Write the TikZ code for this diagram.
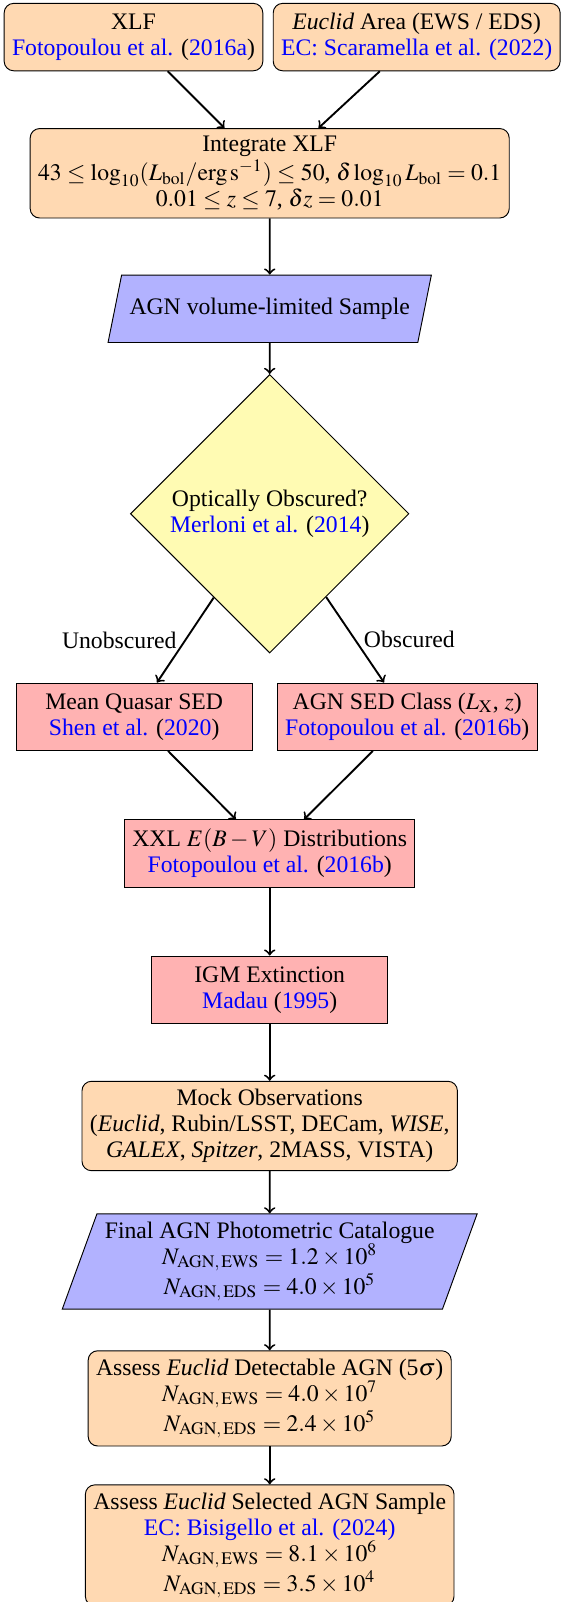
\documentclass[tikz,border=0pt]{standalone}
\usepackage{mathptmx}
\usepackage[no-math]{fontspec}
\setmainfont{Liberation Serif}
\usetikzlibrary{shapes.geometric}

\newcommand{\citeref}[2]{\textcolor{blue}{#1} (\textcolor{blue}{#2})}
\newcommand{\ecref}[1]{\textcolor{blue}{EC: #1}}

\tikzset{
	orangebox/.style={rectangle, rounded corners, draw=black, fill=orange!30, minimum width=3.5cm, minimum height=1cm, align=center},
	redbox/.style={rectangle, draw=black, fill=red!30, minimum width=3.5cm, minimum height=1cm, align=center},
	bluebox/.style={trapezium, trapezium left angle=70, trapezium right angle=110, trapezium stretches=true, draw=black, fill=blue!30, minimum width=3.5cm, minimum height=1cm, align=center},
	decision/.style={diamond, aspect=1, draw=black, fill=yellow!30, align=center},
	flow/.style={draw=black, thick, ->},
}

\begin{document}
\begin{tikzpicture}[every node/.style={font=\fontsize{10}{11}\selectfont}]
	\useasboundingbox (0,0) rectangle (8.31,-23.76);
	% inputs
	\node[orangebox] (xlf) at (1.98,-0.55) {XLF\\\citeref{Fotopoulou et al.}{2016a}};
	\node[orangebox] (area) at (6.18,-0.55) {\textit{Euclid} Area (EWS / EDS)\\\ecref{Scaramella et al. (2022)}};
	\node[orangebox] (integ) at (4.00,-2.57) {Integrate XLF\\[1pt]$43 \le \log_{10}(L_\mathrm{bol}/\mathrm{erg\,s^{-1}}) \le 50$, $\delta\log_{10}L_\mathrm{bol} = 0.1$\\$0.01 \le z \le 7$, $\delta z = 0.01$};
	\node[bluebox] (vol) at (4.00,-4.58) {AGN volume-limited Sample};
	\node[decision] (obsc) at (4.00,-7.62) {Optically Obscured?\\\citeref{Merloni et al.}{2014}};
	% SEDs
	\node[redbox] (qso) at (1.99,-10.63) {Mean Quasar SED\\\citeref{Shen et al.}{2020}};
	\node[redbox] (sedclass) at (6.04,-10.63) {AGN SED Class ($L_\mathrm{X}$, $z$)\\\citeref{Fotopoulou et al.}{2016b}};
	\node[redbox] (ebv) at (4.00,-12.66) {XXL $E(B-V)$ Distributions\\\citeref{Fotopoulou et al.}{2016b}};
	\node[redbox] (igm) at (4.00,-14.68) {IGM Extinction\\\citeref{Madau}{1995}};
	% mock catalogue
	\node[orangebox] (mock) at (4.00,-16.70) {Mock Observations\\(\textit{Euclid}, Rubin/LSST, DECam, \textit{WISE},\\\textit{GALEX}, \textit{Spitzer}, 2MASS, VISTA)};
	\node[bluebox] (final) at (4.00,-18.71) {Final AGN Photometric Catalogue\\$N_\mathrm{AGN,\,EWS} = 1.2\times10^{8}$\\$N_\mathrm{AGN,\,EDS} = 4.0\times10^{5}$};
	\node[orangebox] (detect) at (4.00,-20.74) {Assess \textit{Euclid} Detectable AGN (5$\sigma$)\\$N_\mathrm{AGN,\,EWS} = 4.0\times10^{7}$\\$N_\mathrm{AGN,\,EDS} = 2.4\times10^{5}$};
	\node[orangebox] (select) at (4.00,-22.92) {Assess \textit{Euclid} Selected AGN Sample\\\ecref{Bisigello et al. (2024)}\\$N_\mathrm{AGN,\,EWS} = 8.1\times10^{6}$\\$N_\mathrm{AGN,\,EDS} = 3.5\times10^{4}$};
	% arrows
	\draw[flow] (xlf) -- (integ);
	\draw[flow] (area) -- (integ);
	\draw[flow] (integ) -- (vol);
	\draw[flow] (vol) -- (obsc);
	\draw[flow] (obsc) -- node[left] {Unobscured} (qso);
	\draw[flow] (obsc) -- node[right] {Obscured} (sedclass);
	\draw[flow] (qso) -- (ebv);
	\draw[flow] (sedclass) -- (ebv);
	\draw[flow] (ebv) -- (igm);
	\draw[flow] (igm) -- (mock);
	\draw[flow] (mock) -- (final);
	\draw[flow] (final) -- (detect);
	\draw[flow] (detect) -- (select);
\end{tikzpicture}
\end{document}
